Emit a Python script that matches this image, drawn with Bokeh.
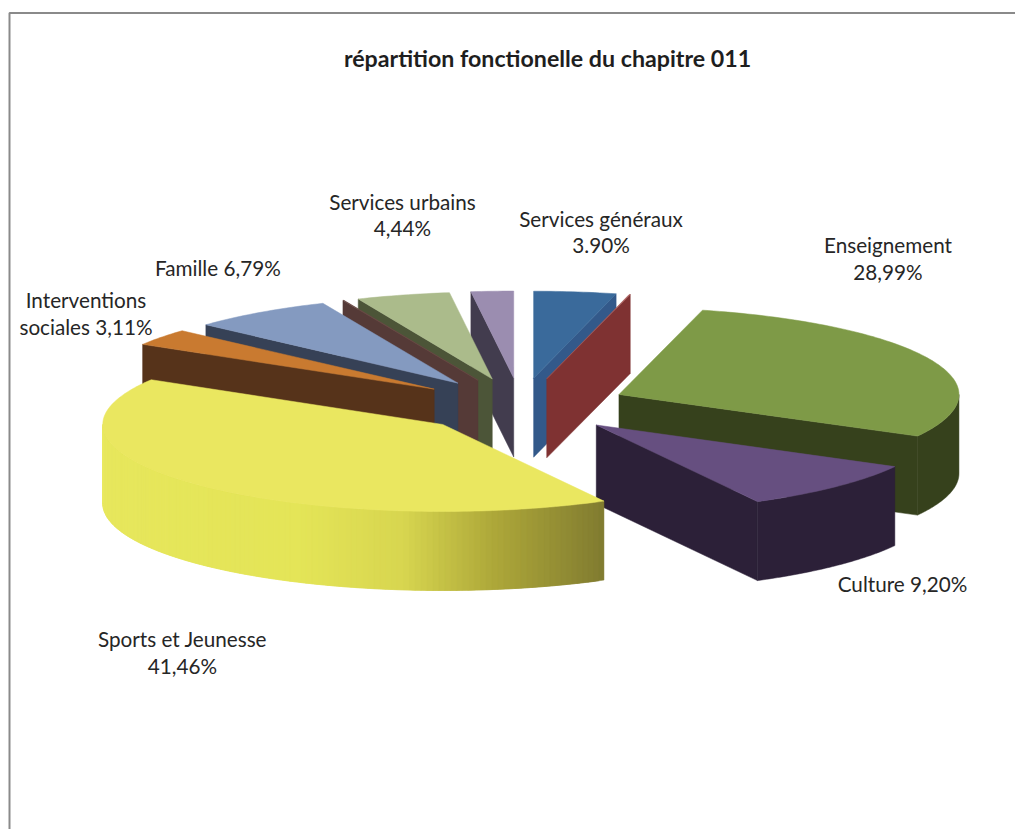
import numpy as np
from bokeh.plotting import figure
from bokeh.embed import file_html
from bokeh.resources import INLINE
from bokeh.core.properties import value as fixed

# --- data -------------------------------------------------------------
categories = ["Services généraux", "", "Enseignement", "Culture", "Sports et Jeunesse",
              "Interventions sociales", "Famille", "", "Services urbains", ""]
values = [3.90, 0.05, 28.99, 9.20, 41.46, 3.11, 6.79, 0.05, 4.44, 2.01]

# --- styles -----------------------------------------------------------
top_colors = ["#3A6A9B", "#A85A58", "#7E9A47", "#664F80", "#EAE760",
              "#C97A30", "#849AC0", "#6A4A46", "#ABBB8B", "#9B8DB0"]
side_colors = ["#33598A", "#7F3232", "#36411C", "#2C2038", "#E4E558",
               "#56331A", "#364156", "#553A37", "#4C5538", "#423C4E"]
draw_order = [9, 0, 8, 1, 7, 2, 6, 5, 3, 4]
GRADIENT_SLICE = 4
grad_theta = [151, 171.5, 186.8, 204.5, 262, 270]
grad_rgb = [(0x7F, 0x7A, 0x30), (0xAE, 0xA8, 0x3A), (0xD8, 0xD6, 0x50),
            (0xE4, 0xE5, 0x58), (0xE8, 0xE8, 0x5E), (0xE8, 0xE8, 0x5E)]

CX, CY = 520.0, 405.0     # pie centre on the page
RX, RY = 340.0, 87.0      # ellipse radii
EXPLODE = 0.316           # share of the radius
DEPTH = 79.0

W, H = 1015, 829
p = figure(width=W, height=H, x_range=(0, W), y_range=(H, 0),
           toolbar_location=None, output_backend="svg", min_border=0,
           outline_line_color=None, background_fill_color="white")
p.axis.visible = False
p.grid.visible = False


def rim(t, ox, oy):
    r = np.radians(t)
    return ox + RX * np.sin(r), oy - RY * np.cos(r)


xs, ys, cols = [], [], []


def add(px, py, c):
    xs.append(list(px)); ys.append(list(py)); cols.append(c)


edges = np.concatenate([[0], np.cumsum(values)]) * 3.6
for i in draw_order:
    a, b = edges[i], edges[i + 1]
    mid = np.radians((a + b) / 2)
    ox = CX + EXPLODE * RX * np.sin(mid)
    oy = CY - EXPLODE * RY * np.cos(mid)
    # cut faces
    for t, vis in ((a, 180 < a < 360), (b, 0 < b < 180)):
        if vis:
            rx, ry = rim(t, ox, oy)
            add([ox, rx, rx, ox], [oy, ry, ry + DEPTH, oy + DEPTH], side_colors[i])
    # outer cylinder face
    lo, hi = max(a, 90), min(b, 270)
    if hi > lo:
        if i == GRADIENT_SLICE:
            ts = np.arange(lo, hi, 1.0)
            for t0 in ts:
                t1 = min(t0 + 2.0, hi)   # strips overlap so no seams appear
                tm = t0 + 0.5
                rgb = [int(np.interp(tm, grad_theta, [c[k] for c in grad_rgb])) for k in range(3)]
                tt = np.linspace(t0, t1, 4)
                rx, ry = rim(tt, ox, oy)
                add(np.r_[rx, rx[::-1]], np.r_[ry, ry[::-1] + DEPTH], "#%02X%02X%02X" % tuple(rgb))
        else:
            ts = np.linspace(lo, hi, 60)
            rx, ry = rim(ts, ox, oy)
            add(np.r_[rx, rx[::-1]], np.r_[ry, ry[::-1] + DEPTH], side_colors[i])
    # top face
    ts = np.linspace(a, b, max(2, int(b - a) + 2))
    rx, ry = rim(ts, ox, oy)
    add(np.r_[ox, rx], np.r_[oy, ry], top_colors[i])

p.patches(xs, ys, fill_color=cols, line_color=cols, line_width=0.5)

# chart frame (top and left edges)
p.line([9, 9, W], [H, 12.5, 12.5], line_color="#8A8A8A", line_width=2)

# --- texts ------------------------------------------------------------
label_lines = ["Services urbains", "4,44%", "Services généraux", "3.90%", "Enseignement", "28,99%",
               "Famille  6,79%", "Interventions", "sociales 3,11%", "Culture 9,20%",
               "Sports et Jeunesse", "41,46%"]
label_x = [402, 402, 600.5, 600.5, 887.5, 887.5, 220, 85.5, 85.5, 902, 182, 182]
label_y = [201, 227, 218, 244, 244, 271, 267, 299, 326, 583, 638, 665]
p.text(label_x, label_y, text=label_lines, text_font=fixed("Lato"), text_font_size="20.7px",
       text_align="center", text_baseline="middle", text_color="#262626")
p.text([547], [57], text=["répartition fonctionelle du chapitre 011"], text_font=fixed("Lato"),
       text_font_size="23.2px", text_font_style="bold", text_align="center",
       text_baseline="middle", text_color="#1E1E1E")

open("out.html", "w").write(file_html(p, INLINE))
